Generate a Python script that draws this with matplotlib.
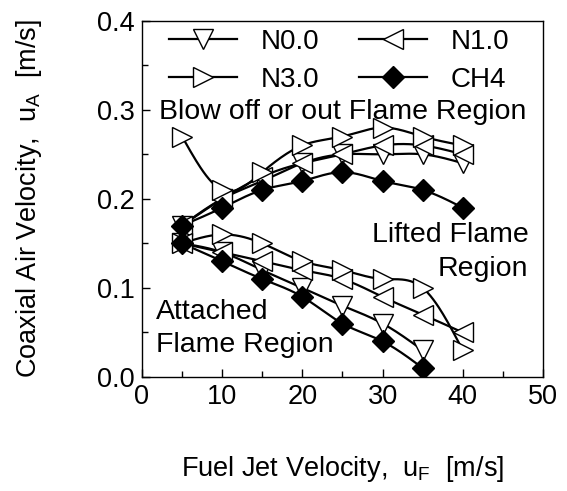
import numpy as np
import matplotlib
matplotlib.use('Agg')
import matplotlib.pyplot as plt

plt.rcParams['font.family'] = ['Liberation Sans', 'DejaVu Sans']
plt.rcParams['mathtext.fontset'] = 'custom'
plt.rcParams['mathtext.rm'] = 'Liberation Sans'
plt.rcParams['mathtext.it'] = 'Liberation Sans'

# upper branch (blow off limit) and lower branch (attached limit)
x_up = [5, 10, 15, 20, 25, 30, 35, 40]
n00_up = [0.17, 0.20, 0.22, 0.24, 0.25, 0.25, 0.25, 0.24]
n10_up = [0.17, 0.20, 0.225, 0.24, 0.25, 0.26, 0.26, 0.25]
n30_up = [0.27, 0.21, 0.23, 0.26, 0.27, 0.28, 0.27, 0.26]
ch4_up = [0.17, 0.19, 0.21, 0.22, 0.23, 0.22, 0.21, 0.19]

x_lo7 = [5, 10, 15, 20, 25, 30, 35]
x_lo8 = [5, 10, 15, 20, 25, 30, 35, 40]
n00_lo = [0.15, 0.14, 0.12, 0.10, 0.08, 0.06, 0.03]
n10_lo = [0.15, 0.14, 0.13, 0.12, 0.11, 0.09, 0.07, 0.05]
n30_lo = [0.15, 0.16, 0.15, 0.13, 0.12, 0.11, 0.10, 0.03]
ch4_lo = [0.15, 0.13, 0.11, 0.09, 0.06, 0.04, 0.01]


def spline(x, y, n=200):
    # natural cubic spline
    x = np.asarray(x, float)
    y = np.asarray(y, float)
    k = len(x)
    h = np.diff(x)
    A = np.zeros((k, k))
    b = np.zeros(k)
    A[0, 0] = 1
    A[-1, -1] = 1
    for i in range(1, k - 1):
        A[i, i - 1] = h[i - 1]
        A[i, i] = 2 * (h[i - 1] + h[i])
        A[i, i + 1] = h[i]
        b[i] = 3 * ((y[i + 1] - y[i]) / h[i] - (y[i] - y[i - 1]) / h[i - 1])
    c = np.linalg.solve(A, b)
    xs = np.linspace(x[0], x[-1], n)
    ys = np.zeros_like(xs)
    for j, xv in enumerate(xs):
        i = min(np.searchsorted(x, xv, side='right') - 1, k - 2)
        bi = (y[i + 1] - y[i]) / h[i] - h[i] * (2 * c[i] + c[i + 1]) / 3
        di = (c[i + 1] - c[i]) / (3 * h[i])
        t = xv - x[i]
        ys[j] = y[i] + bi * t + c[i] * t ** 2 + di * t ** 3
    return xs, ys


fig = plt.figure(figsize=(5.67, 4.91), dpi=100)
ax = fig.add_axes([0.2504, 0.2322, 0.7073, 0.7256])

series = [
    ('N0.0', 'v', 'white', 15, x_up, n00_up, x_lo7, n00_lo),
    ('N1.0', '<', 'white', 15, x_up, n10_up, x_lo8, n10_lo),
    ('N3.0', '>', 'white', 15, x_up, n30_up, x_lo8, n30_lo),
    ('CH4', 'D', 'black', 11, x_up, ch4_up, x_lo7, ch4_lo),
]

handles = {}
for name, m, fc, ms, xu, yu, xl, yl in series:
    for xx, yy in [(xu, yu), (xl, yl)]:
        xs, ys = spline(xx, yy)
        ax.plot(xs, ys, color='black', lw=1.6, zorder=2)
        ax.plot(xx, yy, ls='none', marker=m, ms=ms, mfc=fc, mec='black', mew=1.0, zorder=3)
    handles[name], = ax.plot([], [], color='black', lw=1.6, marker=m, ms=ms, mfc=fc, mec='black', mew=1.0, label=name)

ax.set_xlim(0, 50)
ax.set_ylim(0, 0.4)
ax.set_xticks([0, 10, 20, 30, 40, 50])
ax.set_xticks([5, 15, 25, 35, 45], minor=True)
ax.set_yticks([0.0, 0.1, 0.2, 0.3, 0.4])
ax.set_yticks([0.05, 0.15, 0.25, 0.35], minor=True)
ax.set_yticklabels(['0.0', '0.1', '0.2', '0.3', '0.4'])
ax.tick_params(which='both', direction='in', labelsize=19.5, width=1)
ax.tick_params(which='major', length=6, pad=5)
ax.tick_params(which='minor', length=4)
for s in ax.spines.values():
    s.set_linewidth(1)

ax.set_xlabel('Fuel Jet Velocity,  u$_\\mathregular{F}$  [m/s]', fontsize=19.5, labelpad=32)
ax.set_ylabel('Coaxial Air Velocity,  u$_\\mathregular{A}$  [m/s]', fontsize=19.5, labelpad=38)

ax.text(25, 0.298, 'Blow off or out Flame Region', fontsize=20.5, ha='center', va='center')
ax.text(48.2, 0.140, 'Lifted Flame\nRegion', fontsize=20.5, ha='right', va='center', multialignment='right', linespacing=1.4)
ax.text(1.8, 0.054, 'Attached\nFlame Region', fontsize=20.5, ha='left', va='center', linespacing=1.35)

order = ['N0.0', 'N3.0', 'N1.0', 'CH4']
ax.legend([handles[k] for k in order], order, ncol=2, frameon=False, fontsize=20,
          loc='upper left', bbox_to_anchor=(0.067, 0.978), borderaxespad=0, borderpad=0,
          handlelength=2.45, columnspacing=1.45, handletextpad=0.85, labelspacing=0.45)

fig.savefig('out.png', dpi=100)
